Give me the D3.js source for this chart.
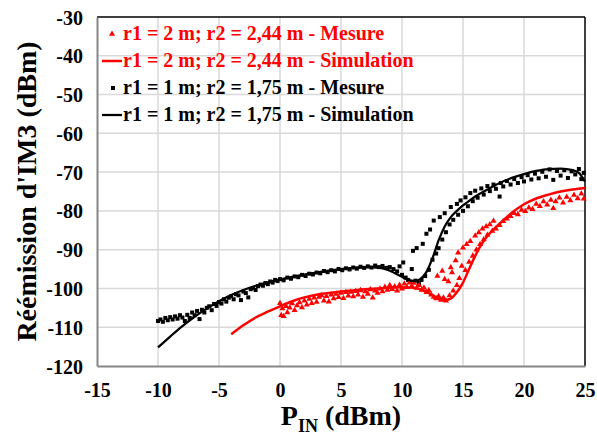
<!DOCTYPE html>
<html><head><meta charset="utf-8">
<script src="https://cdn.jsdelivr.net/npm/d3@7"></script>
<style>body{margin:0;background:#fff}svg{display:block}text{font-family:"Liberation Serif","Times New Roman",serif;font-weight:bold}</style>
</head><body>
<script>
// ---- data ----
const xTicks = [-15,-10,-5,0,5,10,15,20,25];
const yTicks = [-30,-40,-50,-60,-70,-80,-90,-100,-110,-120];
const legendLabels = ["r1 = 2 m; r2 = 2,44 m - Mesure","r1 = 2 m; r2 = 2,44 m - Simulation","r1 = 1 m; r2 = 1,75 m - Mesure","r1 = 1 m; r2 = 1,75 m - Simulation"];

const simBlackX = [-10,-9,-8,-7,-6,-5,-4,-3,-2,-1,0,1,2,3,4,5,6,7,8,8.5,9,9.5,10,10.5,11,11.5,12,12.5,13,13.5,14,14.5,15,15.5,16,17,18,19,20,21,22,23,24,24.5,25];
const simBlackY = [-115.2,-112.4,-109.7,-107.3,-105.2,-103.3,-101.7,-100.4,-99.3,-98.4,-97.7,-97.0,-96.4,-95.9,-95.4,-95.0,-94.7,-94.5,-94.6,-94.9,-95.4,-96.2,-97.0,-97.8,-98.1,-97.6,-95.8,-92.2,-87.6,-84.0,-81.6,-80.0,-78.6,-77.4,-76.3,-74.5,-72.8,-71.5,-70.5,-69.7,-69.2,-69.1,-69.5,-70.2,-72.5];

const simRedX = [-4,-3,-2,-1,0,1,2,3,4,5,6,7,8,9,10,11,11.5,12,12.5,13,13.5,14,14.5,15,15.5,16,16.5,17,18,19,20,21,22,23,24,25];
const simRedY = [-111.8,-109.5,-107.5,-106.0,-104.6,-103.3,-102.3,-101.6,-101.2,-100.8,-100.5,-100.2,-100.0,-99.8,-99.7,-99.8,-100.2,-100.8,-101.8,-102.6,-103.0,-102.6,-101.0,-98.5,-95.0,-91.6,-88.7,-86.5,-83.3,-80.5,-78.3,-76.8,-75.8,-75.0,-74.5,-74.1];

const mesBlackX = [-10,-9.8,-9.6,-9.4,-9.2,-9,-8.8,-8.6,-8.4,-8.2,-8,-7.8,-7.6,-7.4,-7.2,-7,-6.8,-6.6,-6.4,-6.2,-6,-5.8,-5.6,-5.4,-5.2,-5,-4.8,-4.6,-4.4,-4.2,-4,-3.8,-3.6,-3.4,-3.2,-3,-2.8,-2.6,-2.4,-2.2,-2,-1.8,-1.6,-1.4,-1.2,-1,-0.8,-0.6,-0.4,-0.2,0,0.3,0.6,0.9,1.2,1.5,1.8,2.1,2.4,2.7,3,3.3,3.6,3.9,4.2,4.5,4.8,5.1,5.4,5.7,6,6.3,6.6,6.9,7.2,7.5,7.8,8.1,8.4,8.7,9,9.3,9.6,9.8,10,10.1,10.3,10.5,10.7,10.8,10.9,11.1,11.2,11.4,11.6,11.7,11.9,12,12.2,12.3,12.5,12.6,12.8,13,13.1,13.3,13.5,13.6,13.9,14,14.2,14.5,14.6,14.8,15,15.2,15.4,15.6,15.8,16,16.2,16.5,16.7,17,17.2,17.5,17.7,18,18.1,18.3,18.6,18.9,19.2,19.5,19.8,20,20.3,20.6,20.9,21.2,21.5,21.8,22.1,22.4,22.7,23,23.3,23.6,23.9,24.2,24.5,24.7,24.9];
const mesBlackY = [-108.4,-108.0,-108.6,-107.6,-108.2,-107.4,-108.0,-107.2,-107.8,-106.9,-107.5,-108.4,-106.8,-107.6,-106.2,-106.9,-105.8,-107.9,-105.5,-106.2,-105.0,-104.6,-105.6,-104.0,-104.5,-103.5,-103.9,-102.8,-103.4,-102.4,-102.0,-102.8,-101.5,-101.8,-103.0,-100.8,-101.2,-102.3,-100.2,-99.9,-100.4,-99.4,-99.0,-99.3,-98.6,-98.9,-98.2,-98.5,-97.8,-98.1,-97.6,-97.9,-97.2,-97.5,-96.9,-97.1,-96.5,-96.8,-96.2,-96.4,-95.9,-96.1,-95.5,-95.8,-95.3,-95.6,-95.0,-95.3,-94.8,-95.1,-94.6,-94.9,-94.4,-94.7,-94.3,-94.6,-94.1,-94.5,-94.2,-94.7,-94.5,-95.0,-95.6,-94.3,-96.5,-93.3,-97.2,-97.8,-98.3,-95.0,-90.3,-98.0,-89.6,-98.6,-97.8,-88.5,-96.8,-85.9,-95.2,-84.8,-92.6,-82.5,-91.0,-89.6,-81.6,-87.4,-80.6,-85.5,-83.5,-79.0,-82.3,-78.2,-81.0,-77.3,-80.0,-76.5,-78.8,-75.4,-77.5,-74.8,-76.6,-74.2,-75.8,-73.6,-74.9,-73.2,-74.3,-76.3,-72.8,-73.7,-72.3,-73.2,-71.8,-72.8,-71.3,-72.4,-70.8,-71.9,-70.4,-71.6,-69.9,-71.2,-69.3,-72.0,-69.7,-70.9,-69.5,-71.5,-69.8,-70.6,-69.2,-71.8,-70.2];

const mesRedX = [0,0.1,0.2,0.3,0.5,0.6,0.8,1,1.2,1.4,1.6,1.8,2,2.2,2.4,2.6,2.8,3,3.2,3.4,3.6,3.8,4,4.2,4.4,4.6,4.8,5,5.2,5.4,5.6,5.8,6,6.2,6.4,6.6,6.8,7,7.2,7.4,7.6,7.8,8,8.2,8.4,8.6,8.8,9,9.2,9.4,9.6,9.8,10,10.2,10.4,10.6,10.8,11,11.2,11.4,11.6,11.8,12,12.2,12.4,12.6,12.8,12.9,13,13.2,13.3,13.4,13.5,13.6,13.8,13.9,14,14.1,14.2,14.4,14.5,14.6,14.7,14.9,15,15.2,15.3,15.5,15.6,15.8,16,16.1,16.3,16.4,16.6,16.7,16.9,17,17.2,17.4,17.5,17.7,18,18.3,18.6,18.9,19.2,19.5,19.8,20.1,20.4,20.7,21,21.3,21.6,21.9,22.2,22.4,22.6,22.9,23.2,23.5,23.8,24.1,24.4,24.7,24.9];
const mesRedY = [-103.8,-106.9,-105.2,-107.2,-104.6,-106.2,-105.0,-103.9,-105.6,-104.4,-103.6,-104.9,-103.2,-104.2,-102.7,-103.8,-102.4,-103.5,-102.2,-101.8,-103.2,-102.0,-103.4,-101.6,-102.6,-101.4,-102.3,-101.2,-102.5,-101.0,-101.9,-100.9,-102.1,-100.7,-101.6,-100.5,-102.2,-100.8,-101.4,-100.3,-102.4,-100.6,-101.2,-100.1,-100.8,-99.6,-100.4,-99.2,-100.2,-99.5,-100.6,-99.1,-100.1,-98.8,-99.7,-98.5,-99.4,-98.6,-99.9,-99.2,-100.4,-99.8,-101.0,-100.5,-101.6,-102.2,-102.6,-96.8,-102.0,-103.0,-95.5,-102.4,-97.6,-103.2,-98.2,-101.8,-94.6,-95.9,-100.6,-92.8,-99.2,-90.8,-97.4,-94.2,-89.5,-95.3,-88.6,-93.2,-87.8,-91.6,-86.4,-90.0,-85.6,-88.6,-84.6,-87.4,-84.0,-86.2,-83.5,-85.2,-82.6,-84.6,-83.7,-82.7,-82.0,-81.4,-80.6,-80.9,-79.8,-80.1,-79.2,-79.6,-78.2,-78.8,-77.6,-78.4,-77.2,-79.3,-77.6,-76.6,-77.9,-76.4,-77.3,-75.9,-76.8,-75.6,-76.9];

// ---- chart ----
const W = 597, H = 439;
const L = 97, R = 585, T = 17, B = 366;
const FONT = "'Liberation Serif', 'Times New Roman', serif";
const svg = d3.select("body").append("svg").attr("width", W).attr("height", H);
const x = d3.scaleLinear().domain([-15, 25]).range([L, R]);
const y = d3.scaleLinear().domain([-120, -30]).range([B, T]);

// gridlines
const grid = svg.append("g");
grid.selectAll(".gx").data(xTicks.filter(d => d > -15 && d < 25)).enter().append("line")
  .attr("x1", d => x(d)).attr("x2", d => x(d)).attr("y1", T).attr("y2", B)
  .attr("stroke", "#d9d9d9").attr("stroke-width", 1.5);
grid.selectAll(".gy").data(yTicks.filter(d => d > -120 && d < -30)).enter().append("line")
  .attr("y1", d => y(d)).attr("y2", d => y(d)).attr("x1", L).attr("x2", R)
  .attr("stroke", "#d9d9d9").attr("stroke-width", 1.5);

// frame
svg.append("line").attr("x1", L).attr("x2", R).attr("y1", T).attr("y2", T).attr("stroke", "#000").attr("stroke-width", 1.5);
svg.append("line").attr("x1", R).attr("x2", R).attr("y1", T).attr("y2", B).attr("stroke", "#000").attr("stroke-width", 1.5);

// axes
const fmt = d => String(d);
const xAxis = d3.axisBottom(x).tickValues(xTicks).tickFormat(fmt).tickSize(0).tickPadding(0);
const gx = svg.append("g").attr("transform", `translate(0,${B})`).call(xAxis)
  .attr("font-family", FONT).attr("font-size", 20).attr("font-weight", "bold");
gx.select(".domain").attr("stroke", "#868686").attr("stroke-width", 2);
gx.selectAll("text").attr("fill", "#000").attr("dy", null).attr("y", 31)
  .style("font-family", FONT).style("font-weight", "bold").style("font-size", "20px");

const yAxis = d3.axisLeft(y).tickValues(yTicks).tickFormat(fmt).tickSize(0).tickPadding(14);
const gy = svg.append("g").attr("transform", `translate(${L},0)`).call(yAxis)
  .attr("font-family", FONT).attr("font-size", 20).attr("font-weight", "bold");
gy.select(".domain").attr("stroke", "#868686").attr("stroke-width", 2);
gy.selectAll("text").attr("fill", "#000").attr("dy", "0.35em")
  .style("font-family", FONT).style("font-weight", "bold").style("font-size", "20px");

// series
const line = d3.line().x(d => x(d[0])).y(d => y(d[1])).curve(d3.curveMonotoneX);
const redSim = simRedX.map((v, i) => [v, simRedY[i]]);
const blackSim = simBlackX.map((v, i) => [v, simBlackY[i]]);
const redMes = mesRedX.map((v, i) => [v, mesRedY[i]]);
const blackMes = mesBlackX.map((v, i) => [v, mesBlackY[i]]);

svg.append("g").selectAll("rect").data(blackMes).enter().append("rect")
  .attr("x", d => x(d[0]) - 2).attr("y", d => y(d[1]) - 2).attr("width", 4).attr("height", 4).attr("fill", "#000");
const tri = d3.symbol().type(d3.symbolTriangle).size(16);
svg.append("g").selectAll("path").data(redMes).enter().append("path")
  .attr("d", tri).attr("transform", d => `translate(${x(d[0])},${y(d[1])})`).attr("fill", "#ff0000");

svg.append("path").datum(redSim).attr("d", line).attr("fill", "none").attr("stroke", "#ff0000").attr("stroke-width", 2.5);
svg.append("path").datum(blackSim).attr("d", line).attr("fill", "none").attr("stroke", "#000").attr("stroke-width", 2.25);

// legend
const legY = [40, 67, 94, 121];
const legColors = ["#ff0000", "#ff0000", "#000", "#000"];
const lg = svg.append("g");
legendLabels.forEach((t, i) => {
  const cy = legY[i] - 6;
  if (i === 0) lg.append("path").attr("d", tri).attr("transform", `translate(112,${cy})`).attr("fill", "#ff0000");
  if (i === 2) lg.append("rect").attr("x", 111).attr("y", cy - 2).attr("width", 4).attr("height", 4).attr("fill", "#000");
  if (i === 1 || i === 3) lg.append("line").attr("x1", 102).attr("x2", 122).attr("y1", cy).attr("y2", cy)
    .attr("stroke", legColors[i]).attr("stroke-width", i === 1 ? 2.5 : 2.25);
  lg.append("text").attr("x", 123).attr("y", legY[i]).attr("font-size", 20).attr("fill", legColors[i]).text(t);
});

// axis titles
svg.append("text").attr("transform", `translate(36,${(T + B) / 2}) rotate(-90)`).attr("text-anchor", "middle")
  .attr("font-size", 28).attr("fill", "#000").text("Réémission d'IM3 (dBm)");
const xt = svg.append("text").attr("x", (L + R) / 2).attr("y", 425).attr("text-anchor", "middle").attr("font-size", 28).attr("fill", "#000");
xt.append("tspan").text("P");
xt.append("tspan").attr("font-size", 18).attr("dy", 7).text("IN");
xt.append("tspan").attr("dy", -7).text(" (dBm)");
</script>
</body></html>
